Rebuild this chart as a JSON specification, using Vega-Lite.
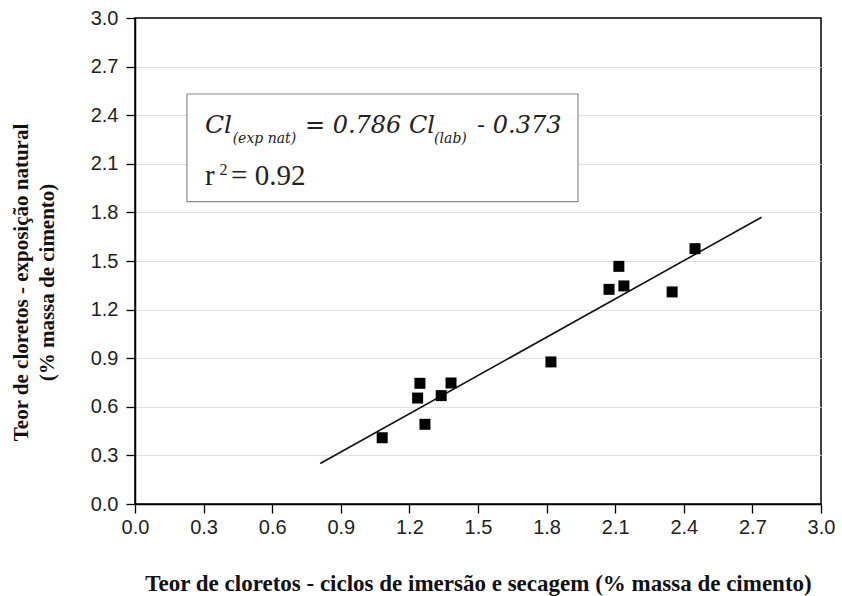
{
  "$schema": "https://vega.github.io/schema/vega-lite/v6.json",
  "width": 686,
  "height": 486,
  "autosize": {"type": "none"},
  "padding": {"left": 135, "top": 18, "right": 21, "bottom": 92},
  "background": "white",
  "config": {
    "view": {"stroke": "#000", "strokeWidth": 1.5},
    "axis": {
      "domainColor": "#000",
      "domainWidth": 1.5,
      "tickColor": "#000",
      "tickWidth": 1.3,
      "labelFont": "Liberation Sans",
      "labelFontSize": 20,
      "labelColor": "#222",
      "labelFlush": false,
      "titleFont": "Liberation Serif",
      "titleFontWeight": "bold",
      "titleColor": "#111",
      "gridColor": "#e0e0e0",
      "gridWidth": 1
    }
  },
  "layer": [
    {
      "data": {"values": [{}]},
      "mark": {"type": "rect", "fill": "white", "stroke": "#8a8a8a", "strokeWidth": 1.2},
      "encoding": {
        "x": {"datum": 0.227, "type": "quantitative", "scale": {"domain": [0, 3]},
          "axis": {
            "values": [0, 0.15, 0.3, 0.45, 0.6, 0.75, 0.9, 1.05, 1.2, 1.35, 1.5, 1.65, 1.8, 1.95, 2.1, 2.25, 2.4, 2.55, 2.7, 2.85, 3.0],
            "format": ".1f",
            "labelExpr": "round(datum.value*100) % 30 == 0 ? datum.label : ''",
            "tickSize": {"condition": {"test": "round(datum.value*100) % 30 == 0", "value": 9}, "value": 5},
            "labelPadding": 4,
            "grid": false,
            "title": "Teor de cloretos - ciclos de imersão e secagem (% massa de cimento)",
            "titleFontSize": 23,
            "titleBaseline": "alphabetic",
            "titleY": 86
          }
        },
        "x2": {"datum": 1.937},
        "y": {"datum": 2.531, "type": "quantitative", "scale": {"domain": [0, 3]},
          "axis": {
            "values": [0, 0.15, 0.3, 0.45, 0.6, 0.75, 0.9, 1.05, 1.2, 1.35, 1.5, 1.65, 1.8, 1.95, 2.1, 2.25, 2.4, 2.55, 2.7, 2.85, 3.0],
            "format": ".1f",
            "labelExpr": "round(datum.value*100) % 30 == 0 ? datum.label : ''",
            "tickSize": {"condition": {"test": "round(datum.value*100) % 30 == 0", "value": 9}, "value": 5},
            "labelPadding": 8,
            "grid": true,
            "gridOpacity": {"condition": {"test": "round(datum.value*100) % 30 == 0 && datum.value > 0.01 && datum.value < 2.99", "value": 1}, "value": 0},
            "title": ["Teor de cloretos - exposição natural", "(% massa de cimento)"],
            "titleFontSize": 21,
            "titleLineHeight": 26,
            "titleAngle": -90,
            "titleAlign": "center",
            "titleBaseline": "alphabetic",
            "titleX": -108,
            "titleY": 264
          }
        },
        "y2": {"datum": 1.866}
      }
    },
    {
      "data": {"values": [
        {"lab": 0.81, "nat": 0.25},
        {"lab": 2.74, "nat": 1.77}
      ]},
      "mark": {"type": "line", "color": "#111", "strokeWidth": 1.6},
      "encoding": {
        "x": {"field": "lab", "type": "quantitative"},
        "y": {"field": "nat", "type": "quantitative"}
      }
    },
    {
      "data": {"values": [
        {"lab": 1.081, "nat": 0.409},
        {"lab": 1.268, "nat": 0.492},
        {"lab": 1.236, "nat": 0.654},
        {"lab": 1.246, "nat": 0.745},
        {"lab": 1.339, "nat": 0.669},
        {"lab": 1.382, "nat": 0.747},
        {"lab": 1.819, "nat": 0.877},
        {"lab": 2.073, "nat": 1.325},
        {"lab": 2.116, "nat": 1.467},
        {"lab": 2.138, "nat": 1.346},
        {"lab": 2.349, "nat": 1.309},
        {"lab": 2.449, "nat": 1.576}
      ]},
      "mark": {"type": "point", "shape": "square", "filled": true, "color": "#000", "opacity": 1, "size": 121},
      "encoding": {
        "x": {"field": "lab", "type": "quantitative"},
        "y": {"field": "nat", "type": "quantitative"}
      }
    },
    {
      "data": {"values": [{}]},
      "mark": {"type": "text", "font": "DejaVu Serif", "fontStyle": "italic", "fontSize": 25, "align": "left", "baseline": "alphabetic", "color": "#222"},
      "encoding": {
        "x": {"datum": 0.306, "type": "quantitative"},
        "y": {"datum": 2.292, "type": "quantitative"},
        "text": {"value": "Cl"}
      }
    },
    {
      "data": {"values": [{}]},
      "mark": {"type": "text", "font": "DejaVu Serif", "fontStyle": "italic", "fontSize": 14, "align": "left", "baseline": "alphabetic", "color": "#222"},
      "encoding": {
        "x": {"datum": 0.427, "type": "quantitative"},
        "y": {"datum": 2.228, "type": "quantitative"},
        "text": {"value": "(exp nat)"}
      }
    },
    {
      "data": {"values": [{}]},
      "mark": {"type": "text", "font": "DejaVu Serif", "fontStyle": "italic", "fontSize": 24, "align": "left", "baseline": "alphabetic", "color": "#222"},
      "encoding": {
        "x": {"datum": 0.743, "type": "quantitative"},
        "y": {"datum": 2.292, "type": "quantitative"},
        "text": {"value": "= 0.786 Cl"}
      }
    },
    {
      "data": {"values": [{}]},
      "mark": {"type": "text", "font": "DejaVu Serif", "fontStyle": "italic", "fontSize": 14, "align": "left", "baseline": "alphabetic", "color": "#222"},
      "encoding": {
        "x": {"datum": 1.308, "type": "quantitative"},
        "y": {"datum": 2.228, "type": "quantitative"},
        "text": {"value": "(lab)"}
      }
    },
    {
      "data": {"values": [{}]},
      "mark": {"type": "text", "font": "DejaVu Serif", "fontStyle": "italic", "fontSize": 24, "align": "left", "baseline": "alphabetic", "color": "#222"},
      "encoding": {
        "x": {"datum": 1.496, "type": "quantitative"},
        "y": {"datum": 2.292, "type": "quantitative"},
        "text": {"value": "- 0.373"}
      }
    },
    {
      "data": {"values": [{}]},
      "mark": {"type": "text", "font": "Liberation Serif", "fontSize": 29, "align": "left", "baseline": "alphabetic", "color": "#222"},
      "encoding": {
        "x": {"datum": 0.306, "type": "quantitative"},
        "y": {"datum": 1.969, "type": "quantitative"},
        "text": {"value": "r"}
      }
    },
    {
      "data": {"values": [{}]},
      "mark": {"type": "text", "font": "Liberation Serif", "fontSize": 16, "align": "left", "baseline": "alphabetic", "color": "#222"},
      "encoding": {
        "x": {"datum": 0.37, "type": "quantitative"},
        "y": {"datum": 2.031, "type": "quantitative"},
        "text": {"value": "2"}
      }
    },
    {
      "data": {"values": [{}]},
      "mark": {"type": "text", "font": "Liberation Serif", "fontSize": 29, "align": "left", "baseline": "alphabetic", "color": "#222"},
      "encoding": {
        "x": {"datum": 0.42, "type": "quantitative"},
        "y": {"datum": 1.969, "type": "quantitative"},
        "text": {"value": "= 0.92"}
      }
    }
  ]
}
